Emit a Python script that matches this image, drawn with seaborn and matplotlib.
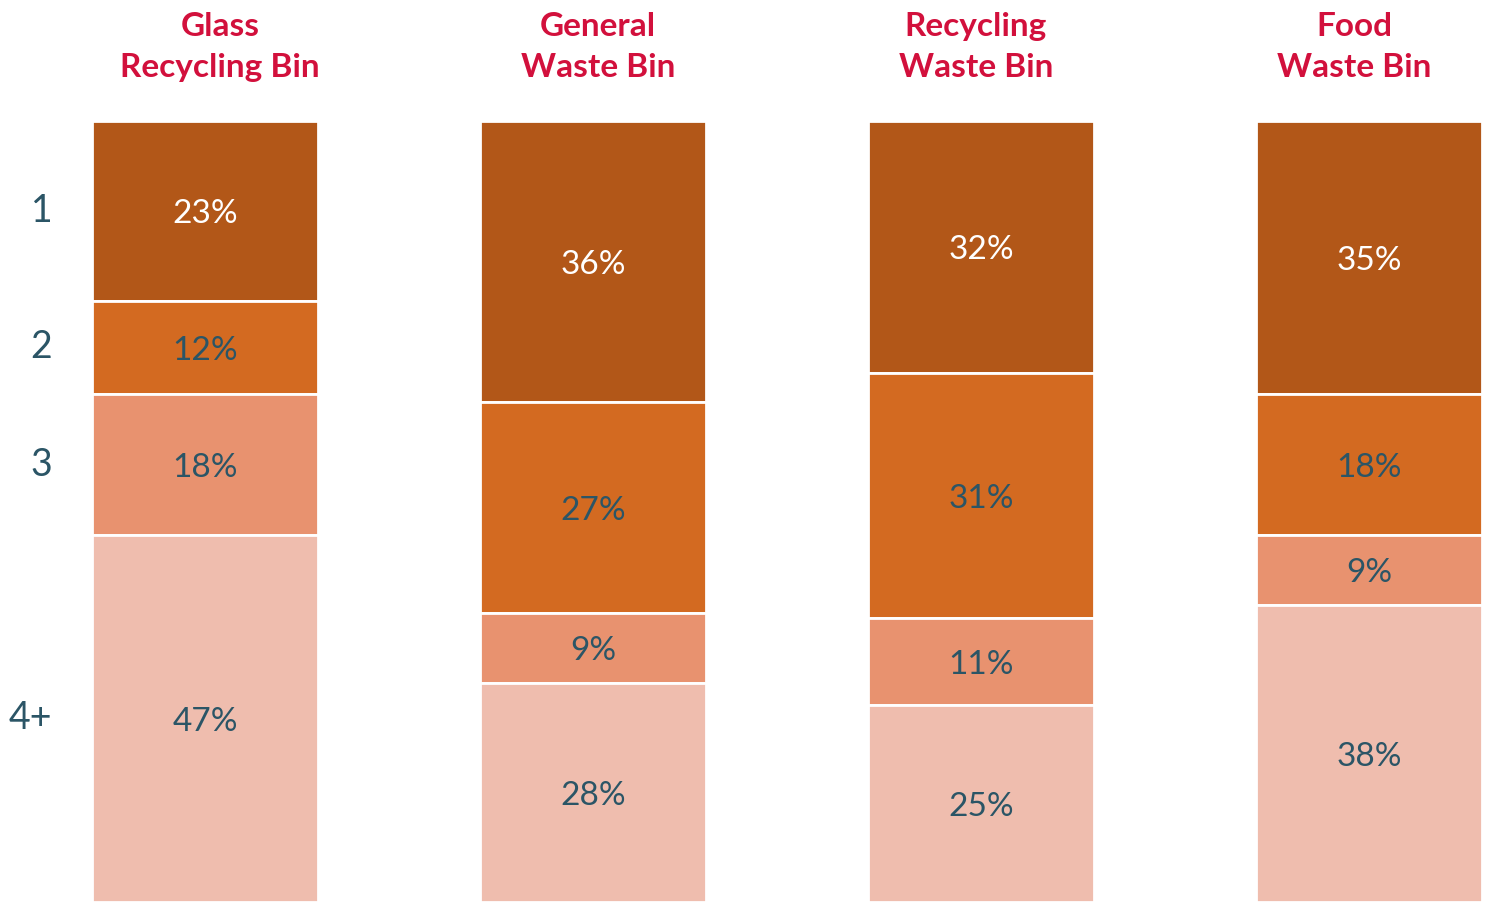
import numpy as np
import pandas as pd
import matplotlib
matplotlib.use("Agg")
import matplotlib.pyplot as plt
import seaborn as sns

# Bin types (columns) and household-size groups (stacked segments, top to bottom)
bins = ["Glass\nRecycling Bin", "General\nWaste Bin", "Recycling\nWaste Bin", "Food\nWaste Bin"]
groups = ["1", "2", "3", "4+"]

share_1 = [23, 36, 32, 35]
share_2 = [12, 27, 31, 18]
share_3 = [18, 9, 11, 9]
share_4 = [47, 28, 25, 38]

colors = ["#B25718", "#D36A21", "#E8926F", "#EFBDAE"]
label_colors = ["white", "#2B5566", "#2B5566", "#2B5566"]
title_color = "#D2103C"
text_color = "#2B5566"

sns.set_theme(style="white")
plt.rcParams["font.family"] = ["Lato", "DejaVu Sans"]

values = np.array([share_1, share_2, share_3, share_4], dtype=float)
totals = values.sum(axis=0)
fractions = values / totals

df = pd.DataFrame({
    "bin": np.repeat(bins, len(groups)),
    "group": groups * len(bins),
    "frac": fractions.T.ravel(),
    "pct": values.T.ravel(),
})
df["bottom"] = df.groupby("bin", sort=False)["frac"].cumsum() - df["frac"]

fig = plt.figure(figsize=(14.86, 9.09), dpi=100)
ax = fig.add_axes([92 / 1486, 7 / 909, 1390 / 1486, 781 / 909])

for gi, g in enumerate(groups):
    sub = df[df["group"] == g]
    sns.barplot(data=sub, x="bin", y="frac", order=bins, color=colors[gi],
                bottom=sub["bottom"].values, width=0.5825, saturation=1,
                edgecolor="white", linewidth=2, ax=ax)

for _, r in df.iterrows():
    gi = groups.index(r["group"])
    xi = bins.index(r["bin"])
    ax.text(xi, r["bottom"] + r["frac"] / 2 + 0.004, f"{int(r['pct'])}%",
            ha="center", va="center", fontsize=24, color=label_colors[gi])

ax.set_xlim(-0.2912, 3.2912)
ax.set_ylim(1, 0)
ax.set_xlabel("")
ax.set_ylabel("")
ax.set_xticks([])
ax.set_yticks([])
for s in ax.spines.values():
    s.set_visible(False)

# Column titles
title_x = [220, 598, 976, 1354]
for tx, b in zip(title_x, bins):
    fig.text(tx / 1486, 1 - 47 / 909, b, ha="center", va="center",
             fontsize=24, fontweight="bold", color=title_color, linespacing=1.5)

# Row labels aligned with the first column's segments
first = df[df["bin"] == bins[0]]
for _, r in first.iterrows():
    yc = r["bottom"] + r["frac"] / 2
    ax.text(-0.394, yc, r["group"], ha="right", va="center",
            fontsize=27, color=text_color, transform=ax.transData, clip_on=False)

fig.savefig("out.png", dpi=100)
